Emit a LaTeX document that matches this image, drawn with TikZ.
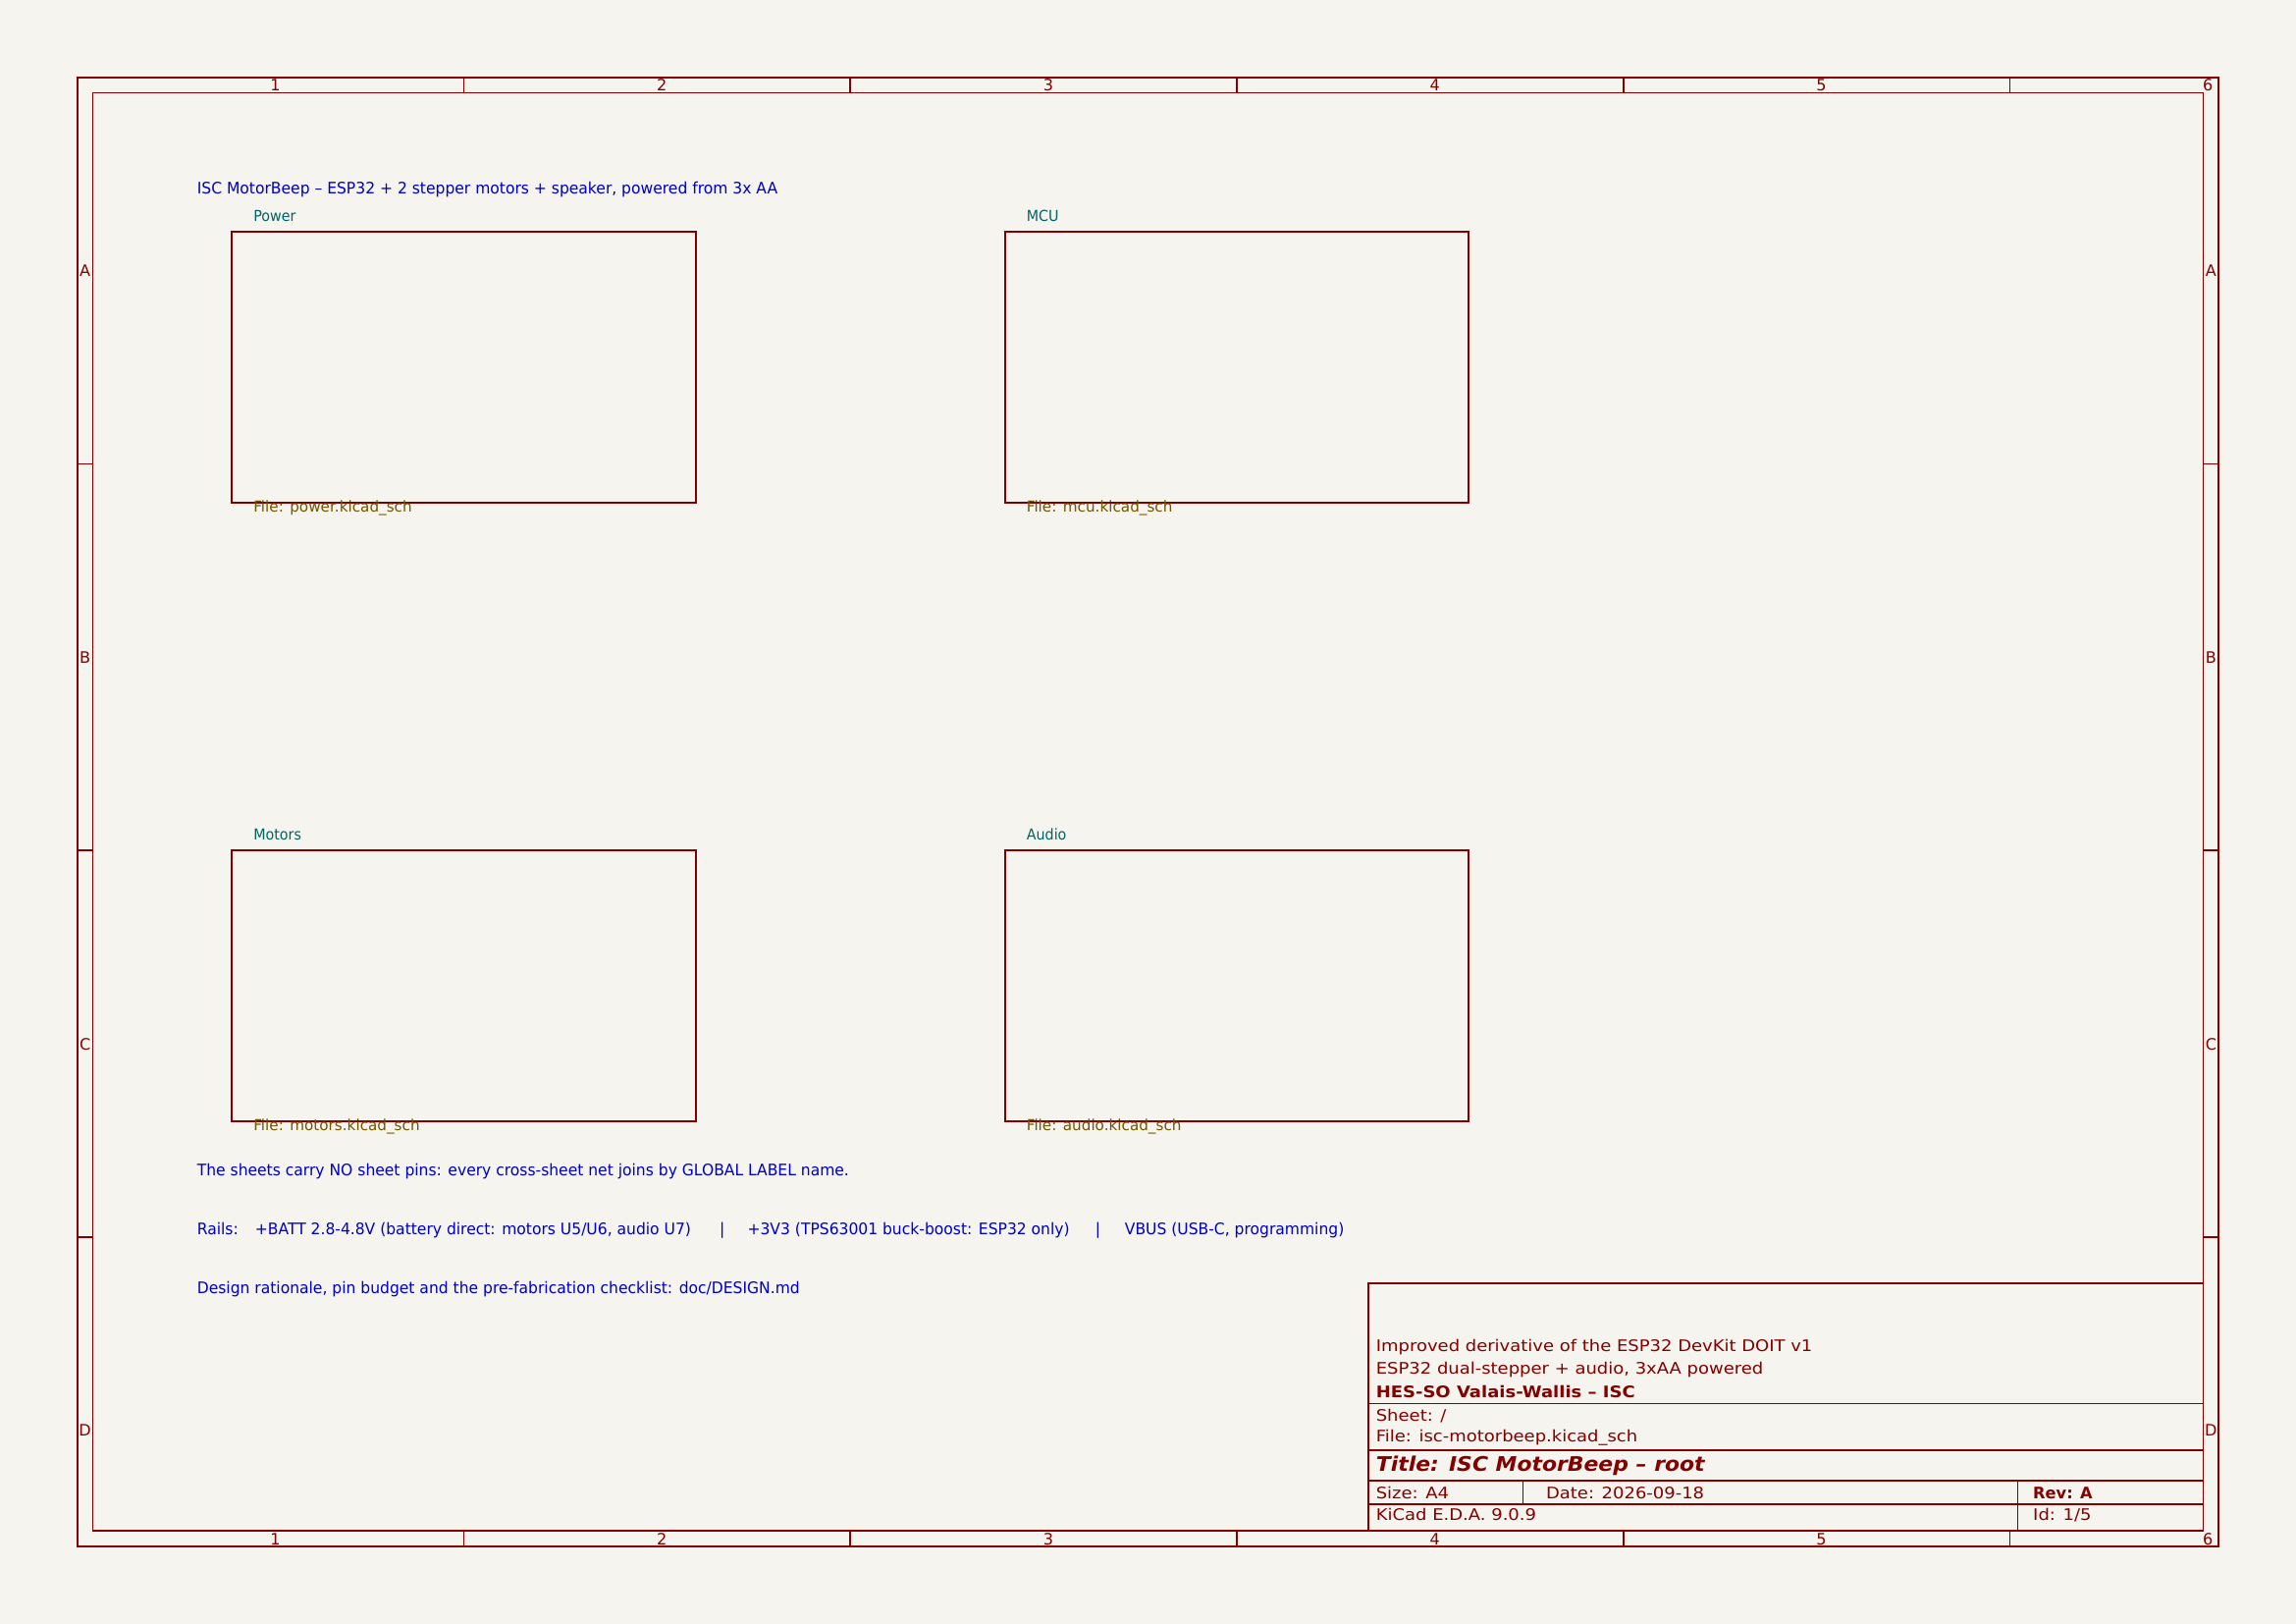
\documentclass[tikz,border=0pt]{standalone}
\usepackage{fontspec}
\setmainfont{DejaVu Sans}
\newfontfamily\notefam[FakeStretch=0.96]{DejaVu Sans}
\newfontfamily\snamefam[FakeStretch=0.93]{DejaVu Sans}
\newfontfamily\sfilefam[FakeStretch=0.99]{DejaVu Sans}
\newfontfamily\tbfam[FakeStretch=1.11]{DejaVu Sans}
\newfontfamily\titlefam[FakeStretch=1.07]{DejaVu Sans}
\usetikzlibrary{calc}
\definecolor{framec}{RGB}{132,0,0}
\definecolor{notec}{RGB}{0,0,194}
\definecolor{snamec}{RGB}{0,100,100}
\definecolor{sfilec}{RGB}{114,86,0}
\definecolor{bgc}{RGB}{245,244,239}
\newcommand\kfont{\fontsize{5.85pt}{7pt}\selectfont}
\newcommand\ksfont{\fontsize{5.55pt}{7pt}\selectfont}
\newcommand\kbfont{\fontsize{5.8pt}{7pt}\selectfont}
\newcommand\ktfont{\titlefam\fontsize{7.4pt}{9pt}\selectfont\bfseries\itshape}
\tikzset{
  every node/.style={inner sep=0pt, outer sep=0pt},
  frameline/.style={draw=framec, line width=0.22mm},
  borderlabel/.style={text=framec, font=\kbfont, anchor=center},
  sheetbox/.style={draw=framec, line width=0.22mm, anchor=north west, minimum width=60mm, minimum height=35mm},
  sheetname/.style={text=snamec, font=\snamefam\ksfont, anchor=base west},
  sheetfile/.style={text=sfilec, font=\sfilefam\ksfont, anchor=base west},
  notetext/.style={text=notec, font=\notefam\kfont, anchor=base west},
  tbtext/.style={text=framec, font=\tbfam\kfont, anchor=base west},
}
\begin{document}
\begin{tikzpicture}[x=1mm, y=-1mm]
\fill[bgc] (0,0) rectangle (297,210);
\useasboundingbox (0,0) rectangle (297,210);
% frame
\draw[frameline] (10,10) rectangle (287,200);
\draw[frameline] (12,12) rectangle (285,198);
\foreach \x in {60,110,160,210,260} {
  \draw[frameline] (\x,10) -- (\x,12);
  \draw[frameline] (\x,198) -- (\x,200);
}
\foreach \y in {60,110,160} {
  \draw[frameline] (10,\y) -- (12,\y);
  \draw[frameline] (285,\y) -- (287,\y);
}
\foreach \n [count=\i from 0] in {1,2,3,4,5,6} {
  \node[borderlabel] (ct\n) at (35.6+50*\i,11.05) {\n};
  \node[borderlabel] (cb\n) at (35.6+50*\i,199.05) {\n};
}
\foreach \l [count=\i from 0] in {A,B,C,D} {
  \node[borderlabel] (rl\l) at (11,35+50*\i) {\l};
  \node[borderlabel] (rr\l) at (286,35+50*\i) {\l};
}
% title block
\draw[frameline] (177,166) rectangle (285,198);
\draw[frameline] (177,181.5) -- (285,181.5);
\draw[frameline] (177,187.5) -- (285,187.5);
\draw[frameline] (177,191.5) -- (285,191.5);
\draw[frameline] (177,194.5) -- (285,194.5);
\draw[frameline] (197,191.5) -- (197,194.5);
\draw[frameline] (261,191.5) -- (261,198);
\node[tbtext] (tbc2) at (178,174.75) {Improved derivative of the ESP32 DevKit DOIT v1};
\node[tbtext] (tbc1) at (178,177.75) {ESP32 dual-stepper + audio, 3xAA powered};
\node[tbtext, font=\tbfam\kfont\bfseries] (tbco) at (178,180.75) {HES-SO Valais-Wallis – ISC};
\node[tbtext] (tbsh) at (178,183.75) {Sheet: /};
\node[tbtext] (tbfi) at (178,186.45) {File: isc-motorbeep.kicad\_sch};
\node[tbtext, font=\ktfont] (tbti) at (178,190.3) {Title: ISC MotorBeep – root};
\node[tbtext] (tbsz) at (178,193.85) {Size: A4};
\node[tbtext] (tbda) at (200,193.85) {Date: 2026-09-18};
\node[tbtext, font=\kfont\bfseries] (tbre) at (263,193.85) {Rev: A};
\node[tbtext] (tbki) at (178,196.65) {KiCad E.D.A. 9.0.9};
\node[tbtext] (tbid) at (263,196.65) {Id: 1/5};
% sheets
\node[sheetbox] (power) at (30,30) {};
\node[sheetbox] (mcu) at (130,30) {};
\node[sheetbox] (motors) at (30,110) {};
\node[sheetbox] (audio) at (130,110) {};
\node[sheetname] (powern) at (32.8,28.65) {Power};
\node[sheetname] (mcun) at (132.8,28.65) {MCU};
\node[sheetname] (motorsn) at (32.8,108.65) {Motors};
\node[sheetname] (audion) at (132.8,108.65) {Audio};
\node[sheetfile] (powerf) at (32.8,66.25) {File: power.kicad\_sch};
\node[sheetfile] (mcuf) at (132.8,66.25) {File: mcu.kicad\_sch};
\node[sheetfile] (motorsf) at (32.8,146.25) {File: motors.kicad\_sch};
\node[sheetfile] (audiof) at (132.8,146.25) {File: audio.kicad\_sch};
% notes
\node[notetext] (note1) at (25.5,25.1) {ISC MotorBeep – ESP32 + 2 stepper motors + speaker, powered from 3x AA};
\node[notetext] (note2) at (25.5,152.05) {The sheets carry NO sheet pins: every cross-sheet net joins by GLOBAL LABEL name.};
\node[notetext] (note3) at (25.5,159.7) {\makebox[7.5mm][l]{Rails:}\makebox[60.1mm][l]{+BATT 2.8-4.8V (battery direct: motors U5/U6, audio U7)}\makebox[3.6mm][l]{|}\makebox[45.0mm][l]{+3V3 (TPS63001 buck-boost: ESP32 only)}\makebox[3.8mm][l]{|}VBUS (USB-C, programming)};
\node[notetext] (note4) at (25.5,167.35) {Design rationale, pin budget and the pre-fabrication checklist: doc/DESIGN.md};
\end{tikzpicture}
\end{document}
